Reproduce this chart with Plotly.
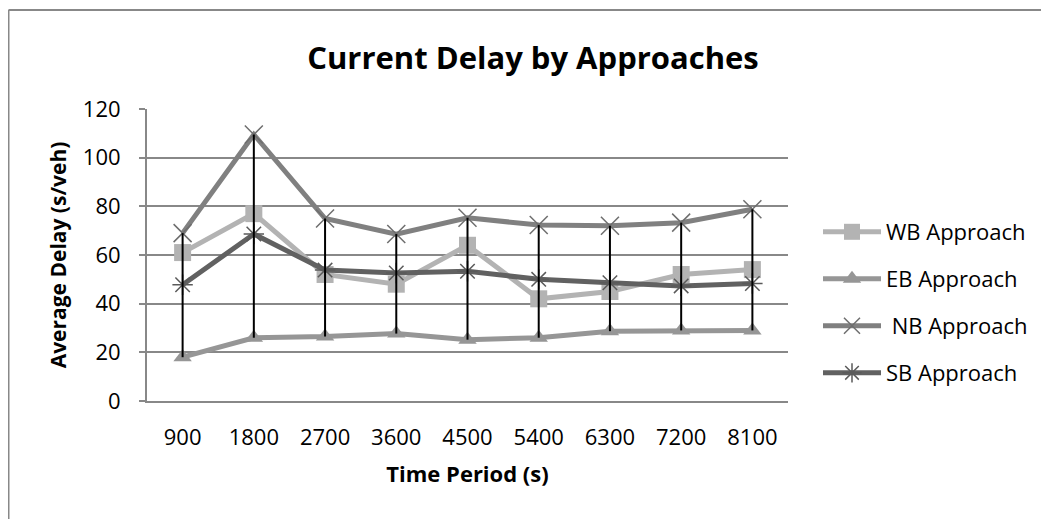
import plotly.graph_objects as go

categories = ["900", "1800", "2700", "3600", "4500", "5400", "6300", "7200", "8100"]
wb = [61, 77, 52, 48, 64, 42, 45, 52, 54]
eb = [18, 26, 26.5, 27.7, 25.2, 26, 28.7, 29, 29]
nb = [69, 109.5, 75, 68.6, 75.3, 72.3, 72, 73.3, 78.8]
sb = [47.8, 68.6, 53.8, 52.6, 53.3, 50, 48.6, 47.3, 48.3]
series_names = ["WB Approach", "EB Approach", " NB Approach", "SB Approach"]

OFF = 8  # page body margin
W, H = 1049 - OFF, 519 - OFF
L, T = 147 - OFF, 109 - OFF
pw, ph = 641, 292
R, B = W - L - pw, H - T - ph

FONT = "Open Sans"
fig = go.Figure()

styles = [
    (wb, "#b3b3b3", "square", 17, "#b3b3b3", 0),
    (eb, "#969696", "triangle-up", 16, "#969696", 0),
    (nb, "#808080", "x-thin-open", 18, "#6e6e6e", 1.5),
    (sb, "#616161", "asterisk-open", 17, "#5a5a5a", 1.5),
]
for i, (vals, col, sym, size, mcol, mlw) in enumerate(styles):
    fig.add_trace(go.Scatter(
        x=categories, y=vals, name=series_names[i], mode="lines+markers",
        line=dict(color=col, width=5),
        marker=dict(symbol=sym, size=size, color=mcol, line=dict(color=mcol, width=mlw)),
        legendgroup=f"g{i}", legendrank=i,
    ))

# high-low lines
hx, hy = [], []
for j, c in enumerate(categories):
    vals = [wb[j], eb[j], nb[j], sb[j]]
    hx += [c, c, None]
    hy += [min(vals), max(vals), None]
fig.add_trace(go.Scatter(x=hx, y=hy, mode="lines", line=dict(color="black", width=2),
                         showlegend=False, hoverinfo="skip"))

def px(x):
    return (x - OFF - L) / pw

def py(y):
    return (H - B - (y - OFF)) / ph

fig.add_shape(type="line", xref="paper", yref="paper", x0=px(8.5), x1=px(1060), y0=py(10), y1=py(10),
              line=dict(color="#888888", width=2))
fig.add_shape(type="line", xref="paper", yref="paper", x0=px(8.5), x1=px(8.5), y0=py(10), y1=py(530),
              line=dict(color="#888888", width=2))

fig.update_layout(
    width=W, height=H,
    margin=dict(l=L, r=R, t=T, b=B, autoexpand=False),
    paper_bgcolor="white", plot_bgcolor="white",
    font=dict(family=FONT, color="black", size=22),
    title=dict(text="<b>Current Delay by Approaches</b>", x=(533 - OFF) / W, xanchor="center",
               y=1 - (58 - OFF) / H, yanchor="middle", font=dict(size=31, family=FONT, color="black")),
    xaxis=dict(type="category", range=[-0.5, 8.5], showline=True, linecolor="#888888", linewidth=2,
               showgrid=False, ticks="", tickfont=dict(size=22), ticklabelstandoff=16,
               title=dict(text="<b>Time Period (s)</b>", font=dict(size=22), standoff=16)),
    yaxis=dict(range=[0, 120], dtick=20, showline=True, linecolor="#888888", linewidth=2,
               gridcolor="#888888", gridwidth=1.5, ticks="outside", ticklen=6, tickcolor="#888888",
               tickwidth=1.5, tickfont=dict(size=22), zeroline=False, ticklabelstandoff=14,
               title=dict(text="<b>Average Delay (s/veh)</b>", font=dict(size=21), standoff=10)),
    legend=dict(x=px(818), xanchor="left", y=py(211), yanchor="top", font=dict(size=22),
                tracegroupgap=15.4, itemwidth=58, bgcolor="rgba(0,0,0,0)"),
    showlegend=True,
)

fig.write_html("out.html")
